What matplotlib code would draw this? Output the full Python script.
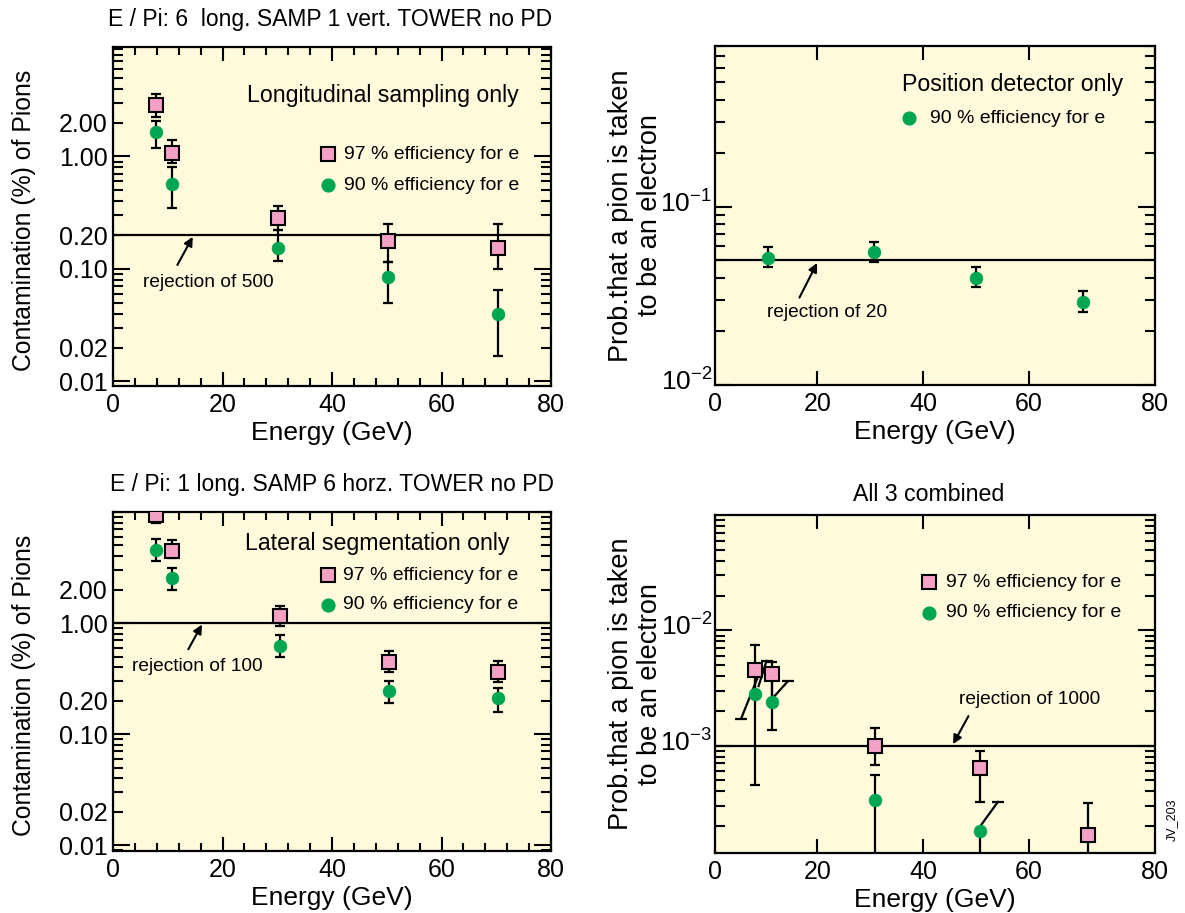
import numpy as np
import matplotlib
matplotlib.use("Agg")
import matplotlib.pyplot as plt
from matplotlib import ticker
from matplotlib.transforms import ScaledTranslation

plt.rcParams["font.family"] = ["Liberation Sans", "DejaVu Sans"]
plt.rcParams["mathtext.fontset"] = "custom"
plt.rcParams["mathtext.rm"] = "Liberation Sans"
plt.rcParams["mathtext.it"] = "Liberation Sans:italic"

# ---------------- data ----------------
# Longitudinal sampling only (contamination in %)
ls_energy = [7.9, 10.7, 30.2, 50.3, 70.4]
ls_97 = [2.85, 1.07, 0.283, 0.178, 0.152]
ls_97_lo = [2.24, 0.873, 0.224, 0.1155, 0.100]
ls_97_hi = [3.6, 1.39, 0.363, 0.249, 0.249]
ls_90 = [1.65, 0.571, 0.152, 0.0843, 0.040]
ls_90_lo = [1.19, 0.347, 0.117, 0.050, 0.0167]
ls_90_hi = [2.05, 0.805, 0.224, 0.1155, 0.0654]

# Lateral segmentation only (contamination in %)
lat_energy = [7.9, 10.7, 30.5, 50.5, 70.4]
lat_97 = [9.46, 4.48, 1.15, 0.445, 0.367]
lat_97_lo = [7.95, 3.85, 0.946, 0.367, 0.298]
lat_97_hi = [11.5, 5.63, 1.43, 0.556, 0.458]
lat_90 = [4.58, 2.54, 0.625, 0.246, 0.211]
lat_90_lo = [3.59, 2.00, 0.494, 0.193, 0.157]
lat_90_hi = [5.71, 3.13, 0.774, 0.302, 0.260]

# Position detector only (probability)
pd_energy = [10.7, 30.7, 50.0, 70.2]
pd_90 = [0.0517, 0.0556, 0.0400, 0.0292]
pd_90_lo = [0.0458, 0.0491, 0.0354, 0.0258]
pd_90_hi = [0.0595, 0.0637, 0.0458, 0.0335]

# All 3 combined (probability)
cb_energy = [8.3, 11.4, 30.9, 50.8, 71.1]
cb_97 = [4.49e-3, 4.14e-3, 1.0e-3, 6.36e-4, 1.68e-4]
cb_97_lo = [2.81e-3, 2.40e-3, 6.79e-4, 3.24e-4, 1.0e-4]
cb_97_hi = [7.41e-3, 5.31e-3, 1.42e-3, 8.93e-4, 3.17e-4]
cb_90_energy = [8.3, 11.4, 30.9, 50.7]
cb_90 = [2.81e-3, 2.40e-3, 3.35e-4, 1.80e-4]
cb_90_lo = [4.58e-4, 1.36e-3, 1.0e-4, 1.0e-4]
cb_90_hi = [4.49e-3, 4.14e-3, 5.6e-4, 1.80e-4]
# slanted error strokes in the combined panel: (x0, y0) -> capped end (x1, y1)
cb_skew_x0 = [8.7, 8.9, 11.9, 51.0]
cb_skew_y0 = [3.87e-3, 3.28e-3, 2.68e-3, 2.06e-4]
cb_skew_x1 = [5.6, 10.4, 14.4, 54.1]
cb_skew_y1 = [1.71e-3, 5.42e-3, 3.60e-3, 3.24e-4]

# rejection thresholds
rej_ls = 500
rej_lat = 100
rej_pd = 20
rej_cb = 1000

PINK = "#f4a1c6"
GREEN = "#00a651"
BG = "#fefadb"

W, H = 1185, 913
fig = plt.figure(figsize=(W / 100, H / 100), dpi=100)


def rect(l, t, r, b):
    return [l / W, 1 - b / H, (r - l) / W, (b - t) / H]


ax_tl = fig.add_axes(rect(113, 47, 551, 386))
ax_tr = fig.add_axes(rect(715, 46, 1155, 385))
ax_bl = fig.add_axes(rect(113, 512, 551, 851))
ax_br = fig.add_axes(rect(715, 515, 1155, 853))

TICK_FS = 18
XLABEL_FS = 19
LEG_FS = 14
PANEL_FS = 16.7
TITLE_FS = 16.5
REJ_FS = 13.8


def style_common(ax):
    ax.set_facecolor(BG)
    ax.set_yscale("log")
    for s in ax.spines.values():
        s.set_linewidth(1.6)
    ax.tick_params(which="both", direction="in", top=True, right=True,
                   width=1.5, labelsize=TICK_FS)


def style_left(ax, ylim):
    style_common(ax)
    ax.set_xlim(0, 80)
    ax.set_ylim(*ylim)
    ax.xaxis.set_major_locator(ticker.FixedLocator([0, 20, 40, 60, 80]))
    ax.xaxis.set_minor_locator(ticker.MultipleLocator(4))
    ax.yaxis.set_major_locator(ticker.FixedLocator([0.01, 0.1, 1, 10]))
    ax.yaxis.set_minor_locator(ticker.LogLocator(base=10, subs=np.arange(2, 10)))
    names = {0.01: "0.01", 0.1: "0.10", 1: "1.00"}
    ax.yaxis.set_major_formatter(ticker.FuncFormatter(
        lambda v, p: next((t for k, t in names.items() if abs(v / k - 1) < 1e-6), "")))
    mnames = {0.02: "0.02", 0.2: "0.20", 2: "2.00"}
    ax.yaxis.set_minor_formatter(ticker.FuncFormatter(
        lambda v, p: next((t for k, t in mnames.items() if abs(v / k - 1) < 1e-6), "")))
    ax.tick_params(axis="x", which="major", length=10, pad=5)
    ax.tick_params(axis="x", which="minor", length=6)
    ax.tick_params(axis="y", which="major", length=12.5, pad=4)
    ax.tick_params(axis="y", which="minor", length=7, pad=4)
    ax.set_xlabel("Energy (GeV)", fontsize=XLABEL_FS)
    ax.xaxis.set_label_coords(0.5, -0.103)
    ax.set_ylabel("Contamination (%) of Pions", fontsize=17.8)
    ax.yaxis.set_label_coords(-0.175, 0.49)


def pow_fmt(v, p):
    e = int(round(np.log10(v)))
    return r"$\mathregular{10^{%d}}$" % e


def style_right(ax, ylim, majors):
    style_common(ax)
    x0, x1 = 0.67, 83.8
    ax.set_xlim(x0, x1)
    ax.set_ylim(*ylim)
    ax.xaxis.set_major_locator(ticker.FixedLocator([x0, 20, 40, 60, x1]))
    ax.xaxis.set_major_formatter(ticker.FixedFormatter(["0", "20", "40", "60", "80"]))
    ax.xaxis.set_minor_locator(ticker.NullLocator())
    ax.yaxis.set_major_locator(ticker.FixedLocator(majors))
    ax.yaxis.set_major_formatter(ticker.FuncFormatter(pow_fmt))
    ax.yaxis.set_minor_locator(ticker.LogLocator(base=10, subs=np.arange(2, 10)))
    ax.yaxis.set_minor_formatter(ticker.NullFormatter())
    ax.tick_params(axis="x", which="major", length=10, pad=5)
    ax.tick_params(axis="y", which="major", length=12.5, pad=2, labelsize=19)
    ax.tick_params(axis="y", which="minor", length=7)
    ax.set_xlabel("Energy (GeV)", fontsize=XLABEL_FS)
    ax.xaxis.set_label_coords(0.5, -0.103)
    ax.set_ylabel("Prob.that a pion is taken\nto be an electron", fontsize=19.5,
                  linespacing=1.15)
    ax.yaxis.set_label_coords(-0.118, 0.5)
    # lift the power-of-ten labels so the mantissa sits on its tick
    shift = ScaledTranslation(0, 4 / 72, fig.dpi_scale_trans)
    for lab in ax.get_yticklabels():
        lab.set_transform(lab.get_transform() + shift)


def err_points(ax, x, y, lo, hi, kind):
    y = np.asarray(y)
    yerr = [y - np.asarray(lo), np.asarray(hi) - y]
    ax.errorbar(x, y, yerr=yerr, fmt="none", ecolor="black", elinewidth=1.6,
                capsize=3.8, capthick=1.6, zorder=2)
    if kind == "sq":
        ax.plot(x, y, "s", ms=9.6, mfc=PINK, mec="black", mew=1.5, ls="none", zorder=3)
    else:
        ax.plot(x, y, "o", ms=9.2, mfc=GREEN, mec=GREEN, mew=0.5, ls="none", zorder=3)


def legend(ax, fx, fy_sq, fy_ci, ftx, show_sq=True):
    kw = dict(transform=ax.transAxes, clip_on=False, ls="none", zorder=4)
    if show_sq:
        ax.plot([fx], [fy_sq], "s", ms=9.6, mfc=PINK, mec="black", mew=1.5, **kw)
        ax.text(ftx, fy_sq, "97 % efficiency for e", transform=ax.transAxes,
                fontsize=LEG_FS, va="center", ha="left")
    ax.plot([fx], [fy_ci], "o", ms=9.2, mfc=GREEN, mec=GREEN, **kw)
    ax.text(ftx, fy_ci, "90 % efficiency for e", transform=ax.transAxes,
            fontsize=LEG_FS, va="center", ha="left")


def rejection(ax, level, text, tip, tail, txt_xy, ha="left"):
    ax.axhline(level, color="black", lw=1.6, zorder=1)
    ax.annotate("", xy=tip, xytext=tail, xycoords="axes fraction",
                textcoords="axes fraction",
                arrowprops=dict(arrowstyle="-|>", color="black", lw=1.5,
                                mutation_scale=13, shrinkA=0, shrinkB=0))
    ax.text(txt_xy[0], txt_xy[1], text, transform=ax.transAxes, fontsize=REJ_FS,
            ha=ha, va="center")


# ---------------- top left ----------------
style_left(ax_tl, (0.0091, 9.4))
rejection(ax_tl, 100.0 / rej_ls, "rejection of 500", (0.182, 0.44), (0.147, 0.357),
          (0.068, 0.305))
err_points(ax_tl, ls_energy, ls_97, ls_97_lo, ls_97_hi, "sq")
err_points(ax_tl, ls_energy, ls_90, ls_90_lo, ls_90_hi, "ci")
ax_tl.text(0.927, 0.858, "Longitudinal sampling only", transform=ax_tl.transAxes,
           fontsize=PANEL_FS, ha="right", va="center")
legend(ax_tl, 0.491, 0.683, 0.592, 0.528)
ax_tl.text(0.496, 1.08, "E / Pi: 6  long. SAMP 1 vert. TOWER no PD",
           transform=ax_tl.transAxes, fontsize=TITLE_FS, ha="center", va="center")

# ---------------- top right ----------------
style_right(ax_tr, (0.01, 0.8), [0.01, 0.1])
rejection(ax_tr, 1.0 / rej_pd, "rejection of 20", (0.232, 0.36), (0.192, 0.258),
          (0.118, 0.214))
err_points(ax_tr, pd_energy, pd_90, pd_90_lo, pd_90_hi, "ci")
ax_tr.text(0.928, 0.887, "Position detector only", transform=ax_tr.transAxes,
           fontsize=PANEL_FS, ha="right", va="center")
legend(ax_tr, 0.44, None, 0.787, 0.489, show_sq=False)

# ---------------- bottom left ----------------
style_left(ax_bl, (0.0089, 10.0))
rejection(ax_bl, 100.0 / rej_lat, "rejection of 100", (0.203, 0.668), (0.172, 0.595),
          (0.044, 0.544))
err_points(ax_bl, lat_energy, lat_97, lat_97_lo, lat_97_hi, "sq")
err_points(ax_bl, lat_energy, lat_90, lat_90_lo, lat_90_hi, "ci")
ax_bl.text(0.906, 0.908, "Lateral segmentation only", transform=ax_bl.transAxes,
           fontsize=PANEL_FS, ha="right", va="center")
legend(ax_bl, 0.49, 0.813, 0.726, 0.526)
ax_bl.text(0.5, 1.08, "E / Pi: 1 long. SAMP 6 horz. TOWER no PD",
           transform=ax_bl.transAxes, fontsize=TITLE_FS, ha="center", va="center")

# ---------------- bottom right ----------------
style_right(ax_br, (1.17e-4, 0.1), [1e-3, 1e-2])
rejection(ax_br, 1.0 / rej_cb, "rejection of 1000", (0.541, 0.322), (0.576, 0.405),
          (0.554, 0.453))
for x0, y0, x1, y1 in zip(cb_skew_x0, cb_skew_y0, cb_skew_x1, cb_skew_y1):
    ax_br.plot([x0, x1], [y0, y1], color="black", lw=1.6, zorder=2)
    ax_br.plot([x1], [y1], marker="_", ms=9, mew=1.6, color="black", zorder=2)
err_points(ax_br, cb_energy, cb_97, cb_97_lo, cb_97_hi, "sq")
err_points(ax_br, cb_90_energy, cb_90, cb_90_lo, cb_90_hi, "ci")
legend(ax_br, 0.487, 0.801, 0.711, 0.524)
ax_br.text(0.485, 1.06, "All 3 combined", transform=ax_br.transAxes,
           fontsize=PANEL_FS, ha="center", va="center")
fig.text(1172 / W, 1 - 820 / H, "JV_203", rotation=90, fontsize=9,
         ha="center", va="center")

fig.savefig("out.png", dpi=100)
